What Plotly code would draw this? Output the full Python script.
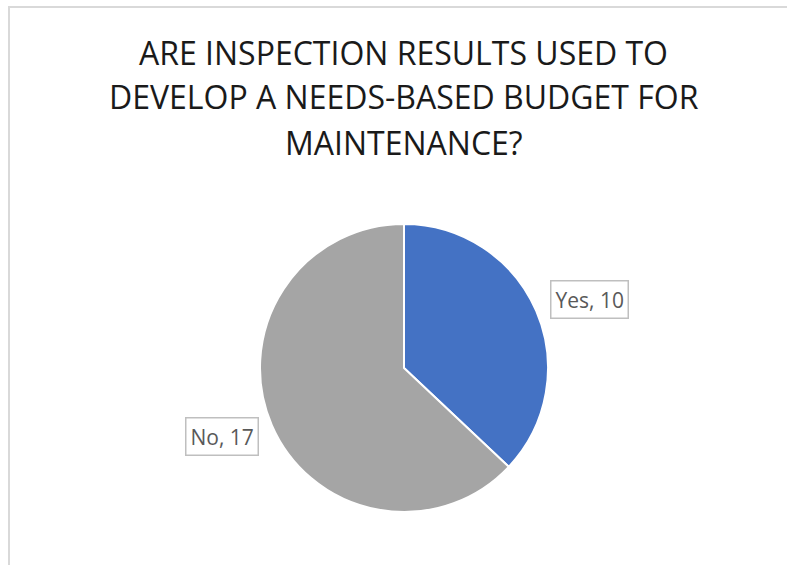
import plotly.graph_objects as go

labels = ["Yes", "No"]
values = [10, 17]
colors = ["#4472C4", "#A5A5A5"]
title_lines = ["ARE INSPECTION RESULTS USED TO", "DEVELOP A NEEDS-BASED BUDGET FOR", "MAINTENANCE?"]

W, H = 787, 565

fig = go.Figure(go.Pie(
    labels=labels, values=values, sort=False, direction="clockwise", rotation=0,
    marker=dict(colors=colors, line=dict(color="white", width=2)),
    textinfo="none", hoverinfo="label+value",
    domain=dict(x=[260 / W, 548 / W], y=[(H - 512) / H, (H - 224) / H]),
))

lbl_font = dict(family="Open Sans", size=21, color="#595959")
fig.add_annotation(x=589 / W, y=1 - 299 / H, xref="paper", yref="paper",
                   xanchor="center", yanchor="middle",
                   text=f"{labels[0]}, {values[0]}", showarrow=False, font=lbl_font,
                   bordercolor="#BFBFBF", borderwidth=1.5, borderpad=4, bgcolor="white")
fig.add_annotation(x=222 / W, y=1 - 436 / H, xref="paper", yref="paper",
                   xanchor="center", yanchor="middle",
                   text=f"{labels[1]}, {values[1]}", showarrow=False, font=lbl_font,
                   bordercolor="#BFBFBF", borderwidth=1.5, borderpad=4, bgcolor="white")

for i, line in enumerate(title_lines):
    fig.add_annotation(x=404 / W, y=1 - (52 + 45 * i) / H, xref="paper", yref="paper",
                       xanchor="center", yanchor="middle",
                       text=line, showarrow=False,
                       font=dict(family="Open Sans", size=32, color="#1a1a1a"))

fig.update_layout(
    width=W, height=H, margin=dict(l=0, r=0, t=0, b=0),
    paper_bgcolor="white", showlegend=False,
    shapes=[
        dict(type="line", xref="paper", yref="paper", x0=8 / W, x1=1, y0=1 - 7 / H, y1=1 - 7 / H,
             line=dict(color="#D9D9D9", width=2)),
        dict(type="line", xref="paper", yref="paper", x0=9 / W, x1=9 / W, y0=0, y1=1 - 7 / H,
             line=dict(color="#D9D9D9", width=2)),
    ],
)

fig.write_html("out.html", config={"displayModeBar": False},
               post_script="document.body.style.margin='0';document.body.style.overflow='hidden';")
